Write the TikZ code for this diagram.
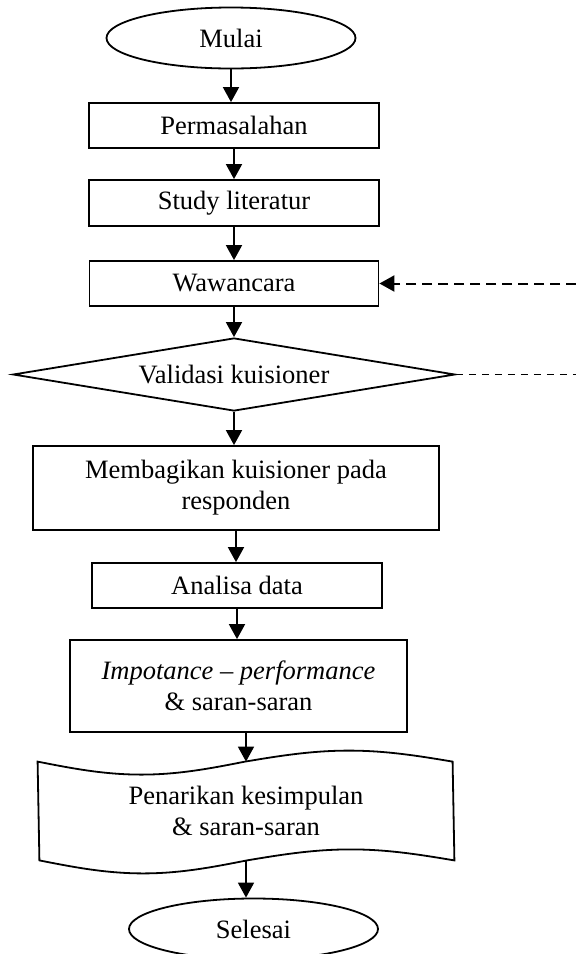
\documentclass[tikz,border=0pt]{standalone}
\usepackage{fontspec}
\setmainfont{Liberation Serif}
\usetikzlibrary{arrows.meta,positioning,shapes.geometric}

\begin{document}
\begin{tikzpicture}[x=1pt,y=-1pt,line width=1.8pt,font=\fontsize{26.5}{31}\selectfont,
  proses/.style={draw,rectangle,align=center,inner sep=0pt},
  terminal/.style={draw,ellipse,minimum width=249pt,minimum height=61pt,inner sep=0pt},
  panah/.style={-{Triangle[length=15pt,width=16pt]}}]
\useasboundingbox (0,0) rectangle (576,954);
\node[terminal] (mulai) at (231,38) {Mulai};
\node[proses,minimum width=290pt,minimum height=45pt] (masalah) at (234,125.5) {Permasalahan};
\node[proses,minimum width=290pt,minimum height=46pt] (studi) at (234,203) {Study literatur};
\node[proses,minimum width=289pt,minimum height=45pt] (wawancara) at (234,283.5) {Wawancara};
\node[draw,diamond,aspect=6,minimum width=442pt,minimum height=73pt,inner sep=0pt] (validasi) at (234,374.5) {Validasi kuisioner};
\node[proses,minimum width=406pt,minimum height=84pt] (bagi) at (236,488) {Membagikan kuisioner pada\\ responden};
\node[proses,minimum width=290pt,minimum height=45pt] (analisa) at (237,585.5) {Analisa data};
\node[proses,minimum width=337pt,minimum height=92pt] (ipa) at (238.5,686) {\textit{Impotance -- performance}\\ \& saran-saran};
\node[minimum width=415pt,minimum height=97pt,inner sep=0pt,align=center] (kesimpulan) at (246,811) {Penarikan kesimpulan\\ \& saran-saran};
\draw (kesimpulan.north west) sin ++(103.75,13) cos ++(103.75,-13) sin ++(103.75,-11) cos ++(103.75,11)
  -- (kesimpulan.south east) sin ++(-103.75,-11) cos ++(-103.75,11) sin ++(-103.75,13) cos ++(-103.75,-13) -- cycle;
\node[terminal] (selesai) at (253.5,929) {Selesai};
\coordinate (luarA) at (576,283.5);
\coordinate (luarB) at (576,374.5);
\draw[panah] (mulai) -- (mulai |- masalah.north);
\draw[panah] (masalah) -- (masalah |- studi.north);
\draw[panah] (studi) -- (studi |- wawancara.north);
\draw[panah] (wawancara) -- (validasi.north);
\draw[panah] (validasi) -- (validasi |- bagi.north);
\draw[panah] (bagi) -- (bagi |- analisa.north);
\draw[panah] (analisa) -- (analisa |- ipa.north);
\draw[panah] (kesimpulan.north |- ipa.south) -- (kesimpulan.north);
\draw[panah] (kesimpulan.south) -- (kesimpulan.south |- selesai.north);
\draw[panah,line width=2pt,dash pattern=on 10pt off 6pt] (luarA) -- (wawancara.east);
\draw[line width=1pt,dash pattern=on 7pt off 6pt] (validasi.east) -- (luarB);
\end{tikzpicture}
\end{document}
